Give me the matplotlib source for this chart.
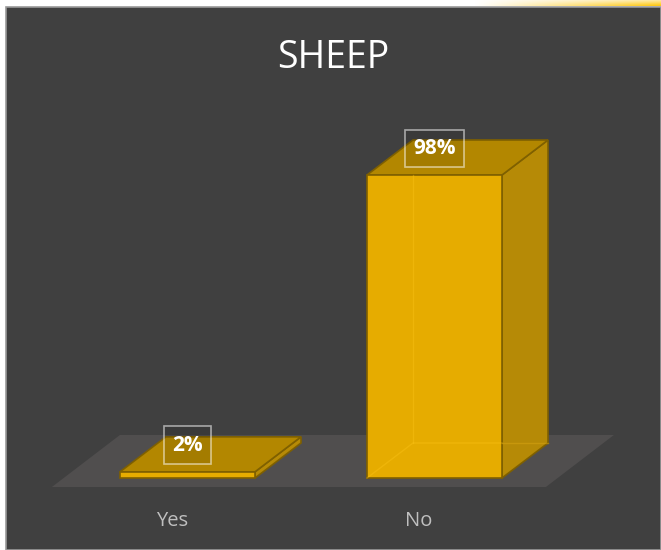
import numpy as np
import matplotlib
matplotlib.use("Agg")
import matplotlib.pyplot as plt
from matplotlib.patches import Polygon, Rectangle

plt.rcParams['font.family'] = ['Open Sans', 'DejaVu Sans']

# Data
categories = ["Yes", "No"]
values = [2, 98]
value_labels = ["2%", "98%"]
title = "SHEEP"

# Colours
BG = "#404040"
FLOOR = "#504E4E"
FRONT = "#E6AC00"
SIDE = "#B68A06"
TOP = "#B38700"
EDGE = "#7F6000"
LABEL = "#BFBFBF"

W, H = 661, 550
fig = plt.figure(figsize=(W / 100, H / 100), dpi=100)
fig.patch.set_facecolor("white")

# plot panel behind everything
fig.patches.append(Rectangle((6 / W, 0), 1 - 6 / W, 1 - 7 / H, transform=fig.transFigure,
                             facecolor=BG, edgecolor="#9A9A9A", linewidth=1.2, zorder=-5))

# thin white margin with a warm glow at the top right
strip = fig.add_axes([0, 1 - 6 / H, 1, 6 / H])
xs = np.linspace(0, 1, 400)
ys = np.linspace(0, 1, 8)
gx, gy = np.meshgrid(xs, ys)
warm = np.clip((gx - 0.72) / 0.28, 0, 1) * (0.4 + 0.6 * gy)
img = np.zeros((8, 400, 3))
img[..., 0] = 1.0
img[..., 1] = 1.0 - 0.22 * warm
img[..., 2] = 1.0 - 0.95 * warm
strip.imshow(img, aspect="auto", extent=(0, 1, 0, 1), origin="upper")
strip.axis("off")

ax = fig.add_axes([0, 0, 1, 1])
ax.set_facecolor("none")
px_per_cat = 247.0
px_per_pct = 303.0 / 98.0
x0_px, y0_px = 187.5, 478.0
ax.set_xlim(-x0_px / px_per_cat, (W - x0_px) / px_per_cat)
ax.set_ylim((y0_px - H) / px_per_pct, y0_px / px_per_pct)
ax.axis("off")

bar_w = 135.0 / px_per_cat
dx = 46.0 / px_per_cat
dy = 35.0 / px_per_pct

# floor
f_front = -9.0 / px_per_pct
f_back = 43.0 / px_per_pct
f_left, f_right = -0.549, 1.451
f_dx = 68.0 / px_per_cat
ax.add_patch(Polygon([(f_left, f_front), (f_right, f_front),
                      (f_right + f_dx, f_back), (f_left + f_dx, f_back)],
                     closed=True, facecolor=FLOOR, edgecolor="none", zorder=1))

for i, v in enumerate(values):
    l, r = i - bar_w / 2, i + bar_w / 2
    side = Polygon([(r, 0), (r + dx, dy), (r + dx, v + dy), (r, v)], closed=True,
                   facecolor=SIDE, edgecolor=EDGE, lw=1.2, zorder=3)
    top = Polygon([(l, v), (r, v), (r + dx, v + dy), (l + dx, v + dy)], closed=True,
                  facecolor=TOP, edgecolor=EDGE, lw=1.2, zorder=3)
    front = Polygon([(l, 0), (r, 0), (r, v), (l, v)], closed=True,
                    facecolor=FRONT, edgecolor=EDGE, lw=1.2, zorder=4)
    for p in (side, top, front):
        ax.add_patch(p)
    # hidden back edges, faintly visible through the translucent faces
    if v > dy:
        ax.plot([l + dx, l + dx], [v, dy], color="#FFC61A", lw=1.0, alpha=0.35, zorder=5)
        ax.plot([l, l + dx, r], [0, dy, dy], color="#FFC61A", lw=1.0, alpha=0.35, zorder=5)
        ax.plot([r, r + dx], [dy, dy], color="#D8A412", lw=1.0, alpha=0.5, zorder=5)

    ax.text(i, v + dy / 2 + 9.0 / px_per_pct, value_labels[i], ha="center", va="center",
            color="white", fontsize=15, fontweight="bold", zorder=6,
            bbox=dict(boxstyle="square,pad=0.4", facecolor=(0, 0, 0, 0.08),
                      edgecolor=(1, 1, 1, 0.55), linewidth=1.2))

    ax.text(i - 15.5 / px_per_cat, -48.0 / px_per_pct, categories[i], ha="center",
            va="baseline", color=LABEL, fontsize=14.5, zorder=6)

fig.text(333.5 / W, 1 - 68.5 / H, title, ha="center", va="baseline",
         color="white", fontsize=27)

fig.savefig("out.png", dpi=100, facecolor=fig.get_facecolor())
